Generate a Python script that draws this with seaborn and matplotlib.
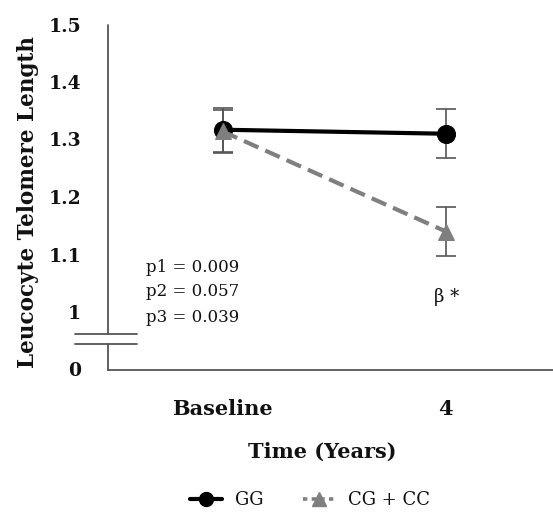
import matplotlib
matplotlib.use("Agg")
import matplotlib.pyplot as plt
import seaborn as sns
import pandas as pd
from matplotlib.lines import Line2D

# ---- data ----
times = ["Baseline", "4"]
groups = ["GG", "CG + CC"]
gg_mean = [1.317, 1.310]
gg_err = [0.038, 0.043]
cg_mean = [1.314, 1.140]
cg_err = [0.038, 0.043]
yticks = [0.9, 1.0, 1.1, 1.2, 1.3, 1.4, 1.5]
yticklabels = ["0", "1", "1.1", "1.2", "1.3", "1.4", "1.5"]
pvals = ["p1 = 0.009", "p2 = 0.057", "p3 = 0.039"]
sig_label = "β *"

sns.set_theme(style="white")
plt.rcParams["font.family"] = ["DejaVu Serif"]
plt.rcParams["text.color"] = "#111111"
plt.rcParams["axes.labelcolor"] = "#111111"
plt.rcParams["xtick.color"] = "#111111"
plt.rcParams["ytick.color"] = "#111111"

df = pd.DataFrame({
    "t": [0, 1, 0, 1],
    "LTL": gg_mean + cg_mean,
    "group": [groups[0]] * 2 + [groups[1]] * 2,
})

W, H = 553, 512
AX_L, AX_B, AX_T = 107.5, 369.5, 24.5
fig = plt.figure(figsize=(W / 100, H / 100), dpi=100)
ax = fig.add_axes([AX_L / W, 1 - AX_B / H, 1 - AX_L / W, (AX_B - AX_T) / H])

colors = {"GG": "#000000", "CG + CC": "#7f7f7f"}
markers = {"GG": "o", "CG + CC": "^"}
msizes = {"GG": 13, "CG + CC": 12}

ax.errorbar([0, 1], gg_mean, yerr=gg_err, fmt="none", ecolor="#555555",
            elinewidth=1.2, capsize=7.5, capthick=1.2, zorder=1)
ax.errorbar([0, 1], cg_mean, yerr=cg_err, fmt="none", ecolor="#555555",
            elinewidth=1.2, capsize=7.5, capthick=1.2, zorder=1)

for g in groups:
    sub = df[df["group"] == g]
    sns.lineplot(data=sub, x="t", y="LTL", ax=ax, color=colors[g],
                 linewidth=3, marker=markers[g], markersize=msizes[g],
                 markeredgecolor=colors[g], legend=False,
                 zorder=3 if g == "GG" else 4)
ax.lines[-1].set_dashes((3.8, 1.8))

ax.set_xlim(-0.516, 1.48)
ax.set_ylim(0.9, 1.5)
ax.set_xticks([0, 1])
ax.set_xticklabels(times, fontsize=15, fontweight="bold")
ax.set_yticks(yticks)
ax.set_yticklabels(yticklabels, fontsize=13.5, fontweight="bold")
ax.tick_params(axis="both", length=0)
ax.tick_params(axis="x", pad=21)
ax.tick_params(axis="y", pad=19)
ax.set_xlabel("Time (Years)", fontsize=15, fontweight="bold")
ax.xaxis.set_label_coords((322 - AX_L) / (W - AX_L), -(452 - AX_B) / (AX_B - AX_T))
ax.xaxis.label.set_va("center")
ax.set_ylabel("Leucocyte Telomere Length", fontsize=15.5, fontweight="bold")
ax.yaxis.set_label_coords(-(AX_L - 28) / (W - AX_L), (AX_B - 202) / (AX_B - AX_T))
ax.yaxis.label.set_va("center")

for s in ["top", "right", "left"]:
    ax.spines[s].set_visible(False)
lc = "#555555"
ax.spines["bottom"].set_color(lc)
ax.spines["bottom"].set_linewidth(1.3)

# broken left axis
ytr = ax.get_yaxis_transform()
ax.plot([0, 0], [0.962, 1.5], transform=ytr, color=lc, lw=1.3, clip_on=False)
ax.plot([0, 0], [0.9, 0.945], transform=ytr, color=lc, lw=1.3, clip_on=False)
xa = -(AX_L - 75) / (W - AX_L)
xb = (137 - AX_L) / (W - AX_L)
for yv in [0.962, 0.945]:
    ax.plot([xa, xb], [yv, yv], transform=ytr, color=lc, lw=1.3, clip_on=False)

# annotations
for i, p in enumerate(pvals):
    fig.text(146 / W, 1 - (267 + 25 * i) / H, p, fontsize=12, va="center", ha="left")
fig.text(447 / W, 1 - 297 / H, sig_label, fontsize=13, va="center", ha="center")

handles = [
    Line2D([], [], color=colors["GG"], linestyle="-", lw=3, marker="o", markersize=10),
    Line2D([], [], color=colors["CG + CC"], linestyle=(0, (1.2, 1.2)), lw=2.6, marker="^", markersize=10),
]
fig.legend(handles, groups, loc="center", bbox_to_anchor=(310 / W, 1 - 500 / H), ncol=2,
           frameon=False, fontsize=13, handlelength=1.8, columnspacing=2.2, handletextpad=0.7)

fig.savefig("out.png", dpi=100)
